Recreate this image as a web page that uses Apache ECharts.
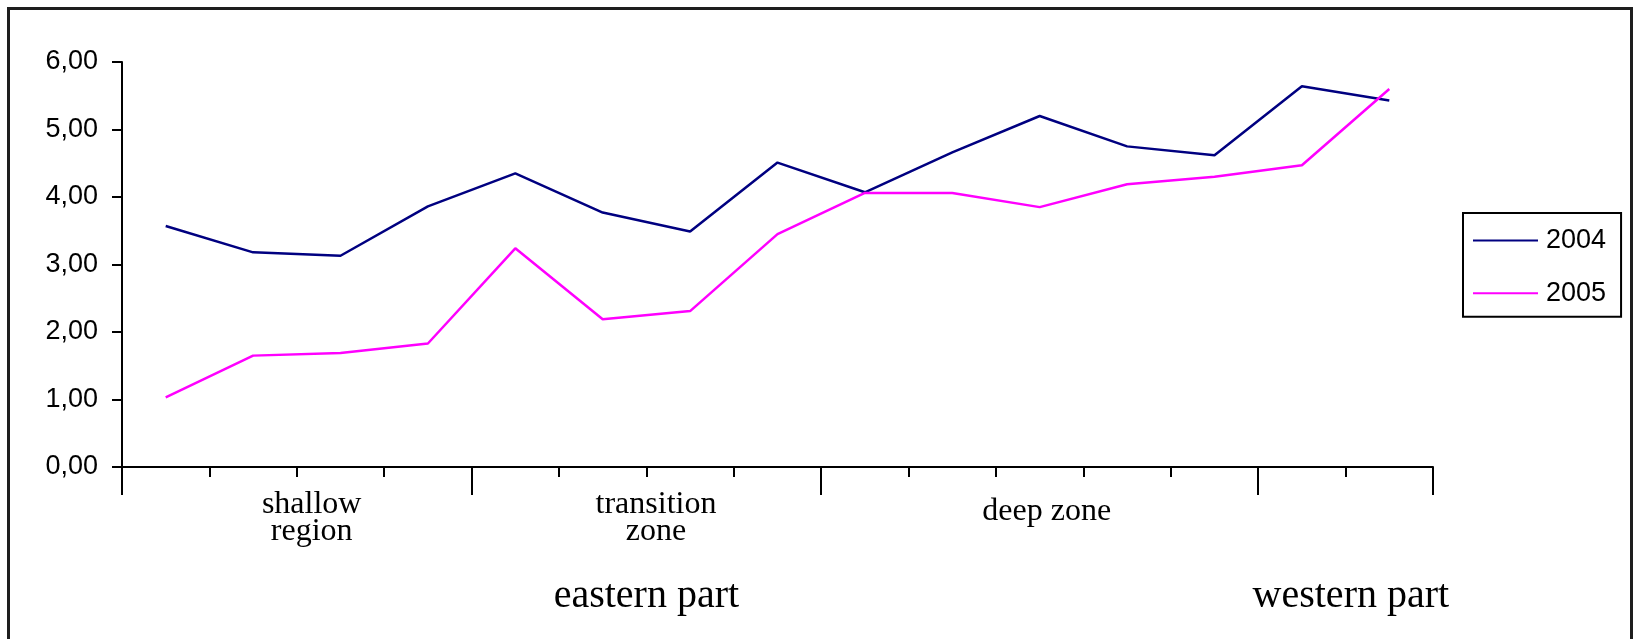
<!DOCTYPE html>
<html><head><meta charset="utf-8">
<script src="https://cdn.jsdelivr.net/npm/echarts@6/dist/echarts.min.js"></script>
<style>
html,body{margin:0;padding:0;background:#fff;}
#chart{position:absolute;left:0;top:0;width:1635px;height:639px;}
#frame{position:absolute;left:7px;top:7px;width:1626px;height:700px;box-sizing:border-box;border:3px solid #1e1e1e;border-bottom:none;pointer-events:none;}
</style></head><body>
<div id="chart"></div><div id="frame"></div>
<script>
// ---- data ----
const categories = ['1','2','3','4','5','6','7','8','9','10','11','12','13','14','15'];
const seriesNames = ['2004', '2005'];
const values2004 = [3.57, 3.18, 3.13, 3.86, 4.35, 3.77, 3.49, 4.51, 4.07, 4.66, 5.20, 4.75, 4.62, 5.64, 5.43];
const values2005 = [1.03, 1.65, 1.69, 1.83, 3.24, 2.19, 2.31, 3.45, 4.06, 4.06, 3.85, 4.19, 4.30, 4.47, 5.60];
const groupStarts = [0, 4, 8, 13];           // category index where each zone starts
const groupNames = ['shallow\nregion', 'transition\nzone', 'deep zone', ''];
const partNames = ['eastern part', 'western part'];
const yTickValues = [0, 1, 2, 3, 4, 5, 6];

// ---- layout (label anchor positions along the category scale) ----
const groupLabelAt = [2.17, 6.11, 10.58];
const partLabelAt = [6.0, 14.06];

const chart = echarts.init(document.getElementById('chart'), null, {renderer: 'canvas'});
const axisColor = '#000';
const serif = '"Liberation Serif", "Times New Roman", serif';
const sans = '"Liberation Sans", Arial, sans-serif';

function labelAxis(values, names, opts) {
  return Object.assign({
    type: 'value', min: 0, max: categories.length, position: 'bottom',
    axisLine: {show: false}, axisTick: {show: false}, splitLine: {show: false},
    axisLabel: {
      customValues: values,
      formatter: function (v) {
        for (let i = 0; i < values.length; i++) if (Math.abs(v - values[i]) < 0.005) return names[i];
        return '';
      },
      color: '#000', fontFamily: serif
    }
  }, opts);
}

const xAxes = [
  {
    type: 'category', data: categories, boundaryGap: true, position: 'bottom',
    axisLine: {show: true, lineStyle: {color: axisColor, width: 2}},
    axisTick: {show: true, interval: 0, inside: false, length: 10, lineStyle: {color: axisColor, width: 2}},
    axisLabel: {show: false}, splitLine: {show: false}
  },
  {
    type: 'category', data: categories, boundaryGap: true, position: 'bottom',
    axisLine: {show: false},
    axisTick: {show: true, inside: false, interval: function (i) { return groupStarts.indexOf(i) >= 0; }, length: 28, lineStyle: {color: axisColor, width: 2}},
    axisLabel: {show: false}, splitLine: {show: false}
  }
];
const ga = labelAxis(groupLabelAt.slice(0, 2), groupNames.slice(0, 2), {});
ga.axisLabel.margin = 24; ga.axisLabel.fontSize = 32; ga.axisLabel.lineHeight = 27;
const gb = labelAxis(groupLabelAt.slice(2, 3), groupNames.slice(2, 3), {offset: 7});
gb.axisLabel.margin = 24; gb.axisLabel.fontSize = 32; gb.axisLabel.lineHeight = 27;
const pa = labelAxis(partLabelAt, partNames, {});
pa.axisLabel.margin = 109; pa.axisLabel.fontSize = 40; pa.axisLabel.lineHeight = 40;
xAxes.push(ga, gb, pa);

chart.setOption({
  animation: false,
  backgroundColor: '#fff',
  grid: {left: 122, right: 202, top: 62, bottom: 172, containLabel: false},
  legend: {
    data: seriesNames.map(function (n) { return {name: n, icon: 'rect'}; }),
    orient: 'vertical', left: 1463, top: 213,
    padding: [14, 15, 10, 10], itemGap: 25.7, itemWidth: 65, itemHeight: 2,
    borderColor: '#000', borderWidth: 2, backgroundColor: '#fff',
    textStyle: {fontFamily: sans, fontSize: 27, lineHeight: 26, color: '#000', padding: [0, 0, 0, 3]}
  },
  xAxis: xAxes,
  yAxis: {
    type: 'value', min: yTickValues[0], max: yTickValues[yTickValues.length - 1], interval: 1,
    axisLine: {show: true, lineStyle: {color: axisColor, width: 2}},
    axisTick: {show: true, length: 10, lineStyle: {color: axisColor, width: 2}},
    splitLine: {show: false},
    axisLabel: {
      margin: 24, fontFamily: sans, fontSize: 27, color: '#000',
      formatter: function (v) { return v.toFixed(2).replace('.', ','); }
    }
  },
  series: [
    {name: seriesNames[0], type: 'line', data: values2004, symbol: 'none', xAxisIndex: 0,
     lineStyle: {color: '#000080', width: 2.5}, itemStyle: {color: '#000080'}},
    {name: seriesNames[1], type: 'line', data: values2005, symbol: 'none', xAxisIndex: 0,
     lineStyle: {color: '#ff00ff', width: 2.5}, itemStyle: {color: '#ff00ff'}}
  ]
});
</script>
</body></html>
